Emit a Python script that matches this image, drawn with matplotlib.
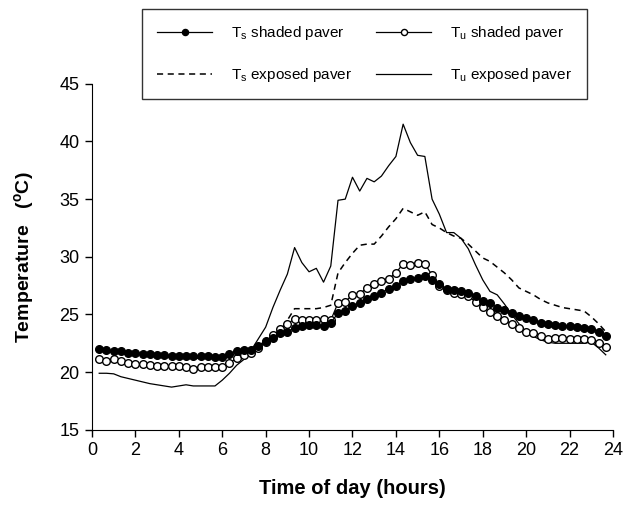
import matplotlib
matplotlib.use("Agg")
import matplotlib.pyplot as plt
import numpy as np

plt.rcParams["font.family"] = ["Liberation Sans", "DejaVu Sans"]
plt.rcParams["mathtext.fontset"] = "custom"
plt.rcParams["mathtext.rm"] = "Liberation Sans"
plt.rcParams["mathtext.bf"] = "Liberation Sans:bold"

### 20-minute readings over one day
hours = np.arange(1, 72) / 3.0

ts_shaded = [22.0, 21.9, 21.8, 21.8, 21.7, 21.7,
             21.6, 21.6, 21.5, 21.5, 21.4, 21.4,
             21.4, 21.4, 21.4, 21.4, 21.3, 21.3,
             21.6, 21.8, 21.9, 21.9, 22.3, 22.7,
             23.0, 23.4, 23.5, 23.8, 24.0, 24.1,
             24.1, 24.0, 24.3, 25.1, 25.3, 25.7,
             26.0, 26.3, 26.6, 26.9, 27.2, 27.5,
             27.9, 28.1, 28.2, 28.3, 28.0, 27.6,
             27.2, 27.1, 27.0, 26.9, 26.6, 26.2,
             26.0, 25.6, 25.35, 25.1, 24.9, 24.7,
             24.5, 24.25, 24.2, 24.1, 24.0, 24.0,
             23.9, 23.8, 23.75, 23.5, 23.15]

tu_shaded = [21.1, 21.0, 21.1, 21.0, 20.8, 20.7,
             20.7, 20.6, 20.5, 20.5, 20.5, 20.5,
             20.4, 20.3, 20.4, 20.4, 20.4, 20.4,
             20.8, 21.2, 21.5, 21.7, 22.1, 22.6,
             23.2, 23.7, 24.2, 24.6, 24.5, 24.5,
             24.5, 24.6, 24.5, 26.0, 26.1, 26.7,
             26.8, 27.3, 27.6, 27.9, 28.1, 28.6,
             29.4, 29.3, 29.5, 29.4, 28.4, 27.5,
             27.1, 26.9, 26.8, 26.6, 26.1, 25.65,
             25.2, 24.9, 24.5, 24.2, 23.8, 23.5,
             23.4, 23.1, 22.9, 22.95, 22.95, 22.9,
             22.9, 22.9, 22.75, 22.5, 22.2]

ts_exposed = [21.9, 21.8, 21.7, 21.6, 21.6, 21.5,
              21.5, 21.4, 21.4, 21.3, 21.3, 21.3,
              21.2, 21.2, 21.2, 21.2, 21.2, 21.2,
              21.4, 21.7, 21.9, 22.0, 22.3, 22.7,
              23.1, 23.6, 24.5, 25.5, 25.5, 25.5,
              25.5, 25.6, 25.8, 28.6, 29.5, 30.3,
              31.0, 31.1, 31.1, 31.8, 32.6, 33.3,
              34.2, 33.9, 33.6, 33.9, 32.8, 32.5,
              32.1, 31.8, 31.6, 31.1, 30.5, 29.9,
              29.6, 29.1, 28.6, 28.0, 27.3, 27.0,
              26.7, 26.3, 26.0, 25.8, 25.6, 25.5,
              25.4, 25.3, 24.8, 24.2, 23.5]

tu_exposed = [19.9, 19.9, 19.85, 19.6, 19.45, 19.3,
              19.15, 19.0, 18.9, 18.8, 18.7, 18.8,
              18.9, 18.8, 18.8, 18.8, 18.8, 19.3,
              19.9, 20.6, 21.1, 21.9, 22.9, 23.9,
              25.6, 27.1, 28.5, 30.8, 29.5, 28.7,
              29.0, 27.8, 29.2, 34.9, 35.0, 36.9,
              35.7, 36.8, 36.5, 37.0, 37.9, 38.7,
              41.5, 39.9, 38.8, 38.7, 35.0, 33.7,
              32.1, 32.1, 31.6, 30.7, 29.3, 28.0,
              27.0, 26.7, 25.9, 25.0, 24.2, 23.5,
              23.1, 22.8, 22.6, 22.5, 22.5, 22.5,
              22.5, 22.5, 22.6, 22.1, 21.5]

x_ticks = np.arange(0, 25, 2)
y_ticks = np.arange(15, 46, 5)

fig = plt.figure(figsize=(6.30, 5.08), dpi=100)
ax = fig.add_axes([0.146, 0.154, 0.827, 0.681])

ax.plot(hours, tu_exposed, color="black", lw=0.9,
        label=r"T$_\mathrm{u}$ exposed paver", zorder=2)
ax.plot(hours, ts_exposed, color="black", lw=1.1, ls=(0, (4, 3)),
        label=r"T$_\mathrm{s}$ exposed paver", zorder=2)
ax.plot(hours, tu_shaded, color="black", lw=0.9, marker="o", ms=5.5,
        mfc="white", mec="black", mew=1.0,
        label=r"T$_\mathrm{u}$ shaded paver", zorder=3)
ax.plot(hours, ts_shaded, color="black", lw=0.9, marker="o", ms=5.5,
        mfc="black", mec="black",
        label=r"T$_\mathrm{s}$ shaded paver", zorder=4)

ax.set_xlim(0, 24)
ax.set_ylim(15, 45)
ax.set_xticks(x_ticks)
ax.set_yticks(y_ticks)
ax.spines["top"].set_visible(False)
ax.spines["right"].set_visible(False)
ax.tick_params(direction="out", length=5, width=1, labelsize=13, pad=4)

ax.set_xlabel("Time of day (hours)", fontsize=14.5, fontweight="bold",
              labelpad=14)
ax.set_ylabel(r"Temperature   ($^\mathbf{o}$C)", fontsize=14,
              fontweight="bold", labelpad=16)

handles, labels = ax.get_legend_handles_labels()
order = [3, 1, 2, 0]
leg = fig.legend([handles[i] for i in order], [labels[i] for i in order],
                 ncol=2, loc="upper right",
                 bbox_to_anchor=(587 / 630, 1 - 9 / 508),
                 borderaxespad=0, fontsize=11, frameon=True,
                 fancybox=False, edgecolor="black", handlelength=3.6,
                 handletextpad=1.2, borderpad=1.0, labelspacing=1.55,
                 columnspacing=1.6, markerscale=0.8)
leg.get_frame().set_linewidth(1.0)

fig.savefig("out.png", dpi=100)
